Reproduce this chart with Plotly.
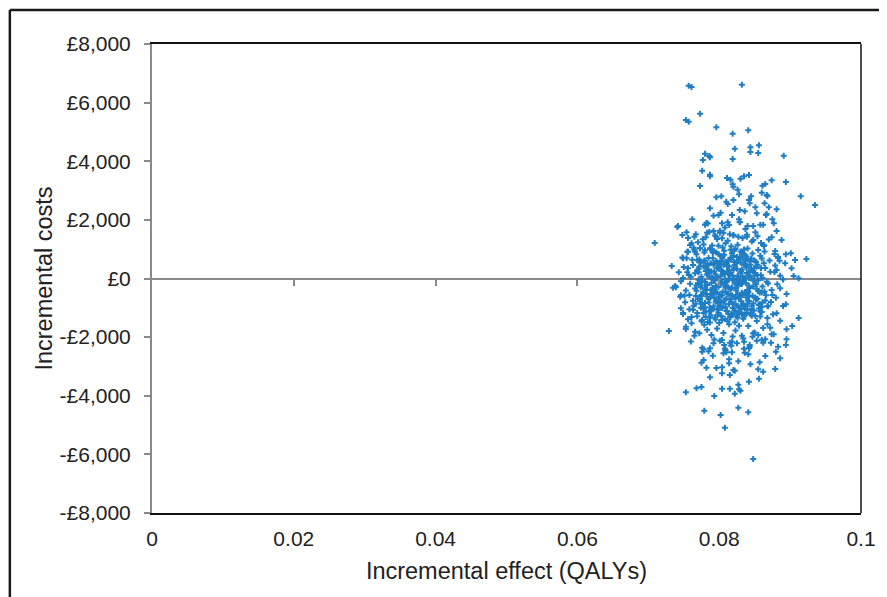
import plotly.graph_objects as go

# ---- data (effect in QALYs, cost in GBP) ----
upper_effect = [0.0757,0.0761,0.0832,0.0773,0.0753,0.0757,0.0796,0.0819,0.0841,0.0856,0.0844,0.0822,0.0844,0.0855,0.0891,0.0780,0.0786,0.0787,0.0777,0.0819,
0.0776,0.0787,0.0787,0.0811,0.0816,0.0830,0.0835,0.0842,0.0874,0.0894,0.0861,0.0865,0.0819,0.0820,0.0773,0.0826,0.0828,0.0860,0.0867,0.0868,
0.0845,0.0796,0.0803,0.0915,0.0935,0.0709,0.0810,0.0812,0.0820,0.0842,0.0843,0.0851,0.0864,0.0870,0.0881,0.0787,0.0802,0.0799,0.0792,0.0818,
0.0829,0.0836,0.0853,0.0866,0.0867,0.0762,0.0782,0.0780,0.0804,0.0812,0.0814,0.0828,0.0829,0.0840,0.0858,0.0875,0.0877,0.0741,0.0742,0.0754,
0.0748,0.0786,0.0783,0.0801,0.0806,0.0881,0.0767,0.0765,0.0777,0.0761,0.0759,0.0796,0.0804,0.0820,0.0827,0.0839,0.0848,0.0874,0.0888,0.0863,
0.0773,0.0766,0.0756,0.0754,0.0749,0.0879,0.0894,0.0901,0.0907,0.0923,0.0883,0.0885,0.0733,0.0756,0.0893,0.0902,0.0912,0.0905]
upper_cost = [6575,6530,6609,5620,5405,5347,5156,4938,5054,4542,4474,4426,4314,4280,4187,4256,4177,4133,4041,4075,
3676,3540,3485,3427,3369,3403,3485,3529,3349,3291,3164,3222,3212,3130,3154,3028,2871,2926,2847,2813,
2803,2769,2803,2803,2506,1210,2619,2540,2677,2677,2564,2428,2564,2428,2360,2394,2244,2165,2141,2165,
2336,2292,2223,2165,2199,2019,1893,1835,1882,1916,1824,2019,1916,1790,1835,2019,1882,1756,1790,1575,
1483,1586,1562,1630,1562,1620,1507,1425,1337,1200,1142,1425,1371,1483,1425,1425,1313,1405,1313,1142,
1030,914,914,689,689,938,825,859,631,665,743,607,426,348,518,348,7,85]

core_effect = [0.0792,0.0808,0.0815,0.0837,0.0851,0.0862,0.0784,0.0829,0.0848,0.0801,
0.0770,0.0781,0.0790,0.0797,0.0805,0.0812,0.0820,0.0826,0.0833,0.0840,0.0846,0.0854,0.0863,0.0870,0.0764,0.0756,0.0809,0.0823,0.0839,0.0859,0.0787,0.0817,0.0778,0.0794,
0.0748,0.0755,0.0762,0.0768,0.0774,0.0780,0.0785,0.0791,0.0796,0.0802,0.0807,0.0813,0.0818,0.0824,0.0829,0.0835,0.0841,0.0847,0.0852,0.0858,0.0864,0.0871,0.0878,0.0883,
0.0779,0.0799,0.0810,0.0832,0.0844,0.0860,0.0765,0.0804,0.0821,0.0788,0.0855,0.0816,0.0838,0.0793,
0.0743,0.0750,0.0757,0.0763,0.0769,0.0775,0.0781,0.0786,0.0792,0.0797,0.0803,0.0808,0.0814,0.0819,0.0825,0.0830,0.0836,0.0842,0.0848,0.0853,0.0859,0.0865,0.0872,0.0879,0.0886,
0.0772,0.0789,0.0800,0.0811,0.0822,0.0833,0.0845,0.0861,0.0760,0.0795,0.0827,0.0850,0.0806,0.0881,0.0749,0.0839,0.0816,
0.0738,0.0746,0.0753,0.0759,0.0766,0.0771,0.0777,0.0783,0.0788,0.0794,0.0799,0.0805,0.0810,0.0816,0.0821,0.0827,0.0832,0.0838,0.0843,0.0849,0.0855,0.0861,0.0867,0.0874,0.0882,0.0890,
0.0768,0.0780,0.0796,0.0809,0.0824,0.0835,0.0852,0.0774,0.0813,0.0841,0.0864,0.0802,0.0829,0.0791,
0.0745,0.0752,0.0758,0.0764,0.0770,0.0776,0.0782,0.0787,0.0793,0.0798,0.0804,0.0809,0.0815,0.0820,0.0826,0.0831,0.0837,0.0842,0.0848,0.0854,0.0860,0.0866,0.0873,0.0880,
0.0773,0.0790,0.0807,0.0823,0.0840,0.0857,0.0785,0.0818,0.0834,0.0801,0.0767,0.0869,0.0796,0.0828,
0.0749,0.0756,0.0763,0.0769,0.0775,0.0781,0.0787,0.0792,0.0798,0.0804,0.0810,0.0816,0.0822,0.0828,0.0834,0.0840,0.0846,0.0853,0.0860,0.0868,0.0876,0.0784,0.0801,0.0813,0.0831,0.0849,0.0795,0.0825,0.0778,0.0858,
0.0753,0.0766,0.0779,0.0789,0.0797,0.0806,0.0814,0.0823,0.0832,0.0841,0.0850,0.0862,0.0874,0.0800,0.0828,0.0783,0.0847,0.0761,0.0819,0.0868,
0.0760,0.0776,0.0793,0.0809,0.0825,0.0843,0.0860,0.0785,0.0834,0.0817]
core_cost = [1620,1740,1510,1690,1580,1830,1880,1930,1790,1560,
1240,1410,1130,1350,1060,1290,1470,1150,1380,1020,1260,1440,1110,1330,1050,1380,1200,1010,1490,1210,1030,1100,1160,1470,
720,910,640,830,540,960,700,880,590,770,950,620,860,520,740,990,660,850,560,780,920,610,840,700,
610,840,530,870,580,680,980,680,960,520,970,710,760,930,
210,390,120,460,280,60,350,180,470,40,300,150,420,90,330,200,480,20,260,400,110,360,230,440,90,
410,240,380,250,460,70,330,20,60,140,30,190,470,290,20,410,190,
-260,-90,-410,-180,-340,-40,-470,-220,-380,-70,-290,-450,-130,-350,-20,-240,-490,-160,-320,-60,-430,-270,-110,-390,-200,-30,
-230,-110,-490,-310,-410,-70,-200,-300,-10,-460,-440,-150,-120,-320,
-620,-810,-560,-930,-700,-880,-530,-990,-650,-830,-580,-960,-720,-870,-540,-780,-940,-610,-850,-690,-970,-570,-800,-660,
-780,-540,-750,-660,-510,-880,-700,-580,-870,-910,-600,-950,-740,-990,
-1180,-1390,-1070,-1290,-1460,-1130,-1340,-1030,-1240,-1420,-1100,-1310,-1490,-1160,-1370,-1060,-1270,-1450,-1140,-1350,-1220,-1480,-1010,-1210,-1040,-1090,-1400,-1290,-1020,-1300,
-1650,-1820,-1580,-1930,-1710,-1860,-1560,-1770,-1950,-1620,-1840,-1690,-1900,-1520,-1610,-1750,-1990,-1530,-1980,-1560,
-2150,-2360,-2080,-2440,-2210,-2330,-2090,-2480,-2050,-2290]

dense_effect = [0.0772,0.0778,0.0783,0.0789,0.0794,0.0799,0.0804,0.0809,0.0814,0.0819,0.0824,0.0829,0.0834,0.0839,0.0844,
0.0775,0.0780,0.0786,0.0791,0.0797,0.0802,0.0807,0.0812,0.0817,0.0822,0.0827,0.0832,0.0837,0.0842,0.0847,
0.0771,0.0776,0.0782,0.0787,0.0792,0.0798,0.0803,0.0808,0.0813,0.0818,0.0823,0.0828,0.0833,0.0838,0.0843,
0.0774,0.0780,0.0785,0.0790,0.0795,0.0800,0.0806,0.0811,0.0816,0.0821,0.0826,0.0831,0.0836,0.0841,0.0846,
0.0768,0.0773,0.0779,0.0784,0.0790,0.0795,0.0801,0.0806,0.0811,0.0816,0.0821,0.0826,0.0832,0.0837,0.0842,0.0848,0.0853,
0.0766,0.0788,0.0803,0.0819,0.0835,0.0851,0.0856,0.0859,0.0769,0.0781,0.0799,0.0815,0.0854,0.0860,0.0845,
0.0770,0.0793,0.0809,0.0825,0.0830,0.0840,0.0850,0.0763,0.0865,0.0758,0.0869,0.0755,0.0875,0.0878,0.0751,0.0761,0.0863,
0.0805,0.0820,0.0796,0.0836]
dense_cost = [650,420,130,-150,-430,-720,-1010,560,280,-60,-330,-610,-900,-1180,470,
-560,-840,-1120,690,360,80,-240,-520,-800,-1090,620,310,30,-250,-590,
210,-90,-390,-660,-950,540,260,-20,-300,-580,-870,-1150,680,390,100,
-1000,580,300,20,-260,-540,-830,-1110,650,370,90,-190,-470,-760,-1040,
-420,-700,-980,470,-500,-790,480,190,-90,-370,-650,-940,-1210,500,210,-70,-350,
180,-1250,-1280,-1230,-1300,-650,-900,350,-1180,-1310,-1170,-1320,120,-480,-1230,
-150,240,-460,-130,550,-860,610,-760,-750,-1050,-170,210,-560,210,-590,-1310,520,
750,780,890,820]

centre_effect = [0.0767,0.0771,0.0776,0.0779,0.0783,0.0786,0.0789,0.0793,0.0796,0.0799,0.0802,0.0805,0.0808,0.0811,0.0813,0.0816,0.0819,0.0822,0.0825,0.0828,
0.0831,0.0834,0.0837,0.0840,0.0843,0.0846,0.0849,0.0852,0.0855,0.0858,
0.0769,0.0774,0.0778,0.0781,0.0785,0.0788,0.0791,0.0794,0.0798,0.0801,0.0804,0.0807,0.0810,0.0812,0.0815,0.0818,0.0821,0.0824,0.0827,0.0830,
0.0833,0.0836,0.0839,0.0842,0.0845,0.0848,0.0851,0.0854,0.0857,0.0861,
0.0773,0.0777,0.0782,0.0787,0.0792,0.0797,0.0803,0.0809,0.0814,0.0820,0.0826,0.0832,0.0838,0.0844,0.0850,0.0856,0.0780,0.0800,0.0817,0.0835]
centre_cost = [-860,330,-1420,890,-610,70,-1090,540,-280,1120,-780,160,-1380,420,-520,980,-1010,-170,730,-690,
250,-1240,610,-390,40,-950,350,-720,-60,-1130,
620,-230,-1180,260,-820,1010,-400,-1330,380,-940,-110,810,-680,-1460,120,-310,560,-1160,-40,920,
-560,-1030,190,-780,680,-270,-1280,470,-480,-820,
1030,-540,430,-1500,-20,-1060,600,-240,-870,300,-1340,-180,-640,-1180,90,-1020,-330,-620,-1200,470]

lower_effect = [0.0735,0.0739,0.0746,0.0886,0.0895,0.0729,0.0753,0.0749,0.0746,0.0912,0.0903,0.0895,0.0895,0.0894,0.0886,0.0890,0.0894,0.0881,0.0868,0.0877,
0.0872,0.0865,0.0862,0.0873,0.0883,0.0880,0.0886,0.0865,0.0857,0.0844,0.0855,0.0862,0.0879,0.0856,0.0842,0.0827,0.0765,0.0772,0.0776,0.0778,
0.0787,0.0792,0.0791,0.0778,0.0775,0.0782,0.0787,0.0796,0.0804,0.0804,0.0814,0.0814,0.0806,0.0810,0.0818,0.0808,0.0807,0.0801,0.0804,0.0815,
0.0818,0.0820,0.0822,0.0815,0.0827,0.0835,0.0836,0.0843,0.0842,0.0841,0.0835,0.0853,0.0848,0.0855,0.0768,0.0775,0.0804,0.0815,0.0828,0.0753,
0.0793,0.0822,0.0830,0.0779,0.0802,0.0827,0.0841,0.0808,0.0848]
lower_cost = [-314,-300,-573,-334,-529,-1790,-1722,-1211,-1016,-1347,-1620,-1732,-2073,-2268,-1439,-938,-880,-1187,-938,-1903,
-1678,-2073,-2189,-2189,-2326,-2496,-2721,-2643,-2858,-2926,-3096,-3178,-3086,-3417,-3519,-3621,-1951,-1869,-2496,-2414,
-2380,-2210,-2633,-2779,-2871,-3042,-3369,-3052,-3028,-3233,-2892,-2755,-2551,-2517,-2517,-2394,-2268,-2121,-2097,-2189,
-2160,-3120,-3144,-3291,-2823,-2394,-2530,-2268,-2380,-2585,-2155,-2120,-1869,-1927,-3744,-3700,-3758,-3758,-3778,-3881,
-4007,-3928,-3826,-4508,-4655,-4406,-4563,-5088,-6155]

x_ticks = [0, 0.02, 0.04, 0.06, 0.08, 0.1]
x_tick_labels = ["0", "0.02", "0.04", "0.06", "0.08", "0.1"]
y_ticks = [8000, 6000, 4000, 2000, 0, -2000, -4000, -6000, -8000]
y_tick_labels = ["£8,000", "£6,000", "£4,000", "£2,000", "£0", "-£2,000", "-£4,000", "-£6,000", "-£8,000"]

effect = upper_effect + core_effect + dense_effect + centre_effect + lower_effect
cost = upper_cost + core_cost + dense_cost + centre_cost + lower_cost

FONT = "Liberation Sans"
GREY = "#8a8a8a"
TEXT = "#222222"

fig = go.Figure()
fig.add_trace(go.Scatter(
    x=effect, y=cost, mode="markers",
    marker=dict(symbol="cross", size=5, color="#1f7dc4", line=dict(width=0)),
    showlegend=False, hoverinfo="x+y",
))
# invisible trace to carry the tick axis drawn along the zero line
fig.add_trace(go.Scatter(x=[0, 0.1], y=[0, 0], xaxis="x2", mode="markers",
                         marker=dict(opacity=0), showlegend=False, hoverinfo="skip"))

# page body has an 8px margin, so the figure is sized/offset to compensate
fig.update_layout(
    width=879, height=589,
    margin=dict(l=144, r=26, t=36, b=84),
    paper_bgcolor="white", plot_bgcolor="white",
    font=dict(family=FONT, size=21, color=TEXT),
    xaxis=dict(
        range=[0, 0.1], tickvals=x_ticks, ticktext=x_tick_labels,
        showgrid=False, zeroline=False,
        showline=True, linecolor="#111111", linewidth=1.5, mirror=True,
        ticks="", ticklabelstandoff=6,
        tickfont=dict(family=FONT, size=21, color=TEXT),
        title=dict(text="Incremental effect (QALYs)", font=dict(family=FONT, size=23.5, color=TEXT), standoff=14),
    ),
    xaxis2=dict(
        range=[0, 0.1], tickvals=x_ticks[1:-1], overlaying="x", anchor="free",
        position=0.5, showticklabels=False, showgrid=False, zeroline=False,
        showline=False, ticks="outside", ticklen=6, tickwidth=1.5, tickcolor=GREY,
    ),
    yaxis=dict(
        range=[-8000, 8000], tickvals=y_ticks, ticktext=y_tick_labels,
        showgrid=False, zeroline=True, zerolinecolor=GREY, zerolinewidth=1.8,
        showline=True, linecolor=GREY, linewidth=2,
        ticks="outside", ticklen=6, tickwidth=1.5, tickcolor=GREY, ticklabelstandoff=9,
        tickfont=dict(family=FONT, size=21, color=TEXT),
        title=dict(text="Incremental costs", font=dict(family=FONT, size=23.5, color=TEXT), standoff=0),
    ),
    shapes=[
        # right frame edge (black)
        dict(type="line", xref="paper", yref="paper", x0=1, x1=1, y0=0, y1=1,
             line=dict(color="#111111", width=1.5)),
        # outer border of the figure (left and top)
        dict(type="line", xref="paper", yref="paper", x0=-0.2005, x1=-0.2005, y0=1.0725, y1=-0.2,
             line=dict(color="#1a1a1a", width=2.5)),
        dict(type="line", xref="paper", yref="paper", x0=-0.2005, x1=1.05, y0=1.0725, y1=1.0725,
             line=dict(color="#1a1a1a", width=2.5)),
    ],
)

fig.write_html("out.html")
